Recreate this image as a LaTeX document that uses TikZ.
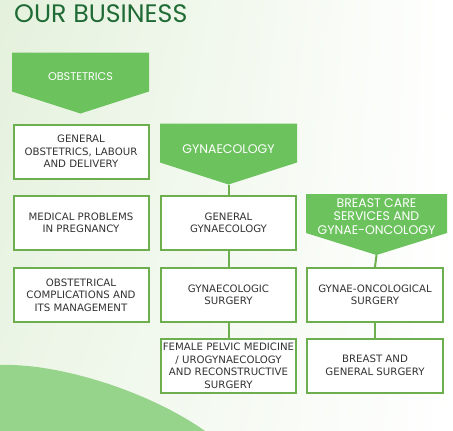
\documentclass[tikz,border=0pt]{standalone}
\usepackage{fontspec}
\setmainfont{DejaVu Sans}
\newfontfamily\headfont{Poppins}
\usetikzlibrary{calc,shadings}
\definecolor{bizdark}{HTML}{1F6B35}
\definecolor{bizhead}{HTML}{6CC35E}
\definecolor{bizline}{HTML}{6DAE4F}
\definecolor{bizwave}{HTML}{96D48B}
\definecolor{bizfade}{HTML}{E4F1DC}
\definecolor{biztext}{HTML}{333333}
\tikzset{
  headbox/.style={minimum width=137pt, minimum height=61pt, inner sep=0pt, align=center, text=white, font=\headfont\fontsize{12.5}{13.5}\selectfont,
    path picture={\fill[bizhead] (path picture bounding box.north west) -- (path picture bounding box.north east) -- ([yshift=22pt]path picture bounding box.south east) -- (path picture bounding box.south) -- ([yshift=22pt]path picture bounding box.south west) -- cycle;}},
  itembox/.style={draw=bizline, line width=2pt, fill=white, minimum width=135pt, minimum height=54pt, inner xsep=0.5pt, inner ysep=2pt, align=center, text=biztext, font=\fontsize{10.2}{12.5}\selectfont},
  itemlink/.style={draw=bizline, line width=2pt}
}

\begin{document}
\begin{tikzpicture}[x=1pt, y=-1pt]
\useasboundingbox (0,0) rectangle (453,431);
\shade[upper left=bizfade, upper right=white, lower left=bizfade!70!white, lower right=white] (0,0) rectangle (453,431);
\fill[bizwave] (0,365) .. controls (60,363) and (150,392) .. (205,431) -- (0,431) -- cycle;
\node[anchor=base west, inner sep=0pt, text=bizdark, font=\headfont\fontsize{25.3}{25}\selectfont] (title) at (14,22) {OUR BUSINESS};

\node[headbox, font=\headfont\fontsize{11.2}{13.5}\selectfont] (obs) at (80.5,83) {OBSTETRICS\rule[-12pt]{0pt}{0pt}};
\node[itembox] (ogl) at (81,151.5) {GENERAL\\OBSTETRICS, LABOUR\\AND DELIVERY};
\node[itembox] (omp) at (81,223) {MEDICAL PROBLEMS\\IN PREGNANCY};
\node[itembox] (ocm) at (81,295) {OBSTETRICAL\\COMPLICATIONS AND\\ITS MANAGEMENT};

\node[headbox] (gyn) at (228.5,154) {GYNAECOLOGY\rule[-10pt]{0pt}{0pt}};
\node[itembox] (ggn) at (228.5,223) {GENERAL\\GYNAECOLOGY};
\node[itembox] (gsu) at (228.5,295) {GYNAECOLOGIC\\SURGERY};
\node[itembox] (gpm) at (228.5,366) {FEMALE PELVIC MEDICINE\\/ UROGYNAECOLOGY\\AND RECONSTRUCTIVE\\SURGERY};

\node[headbox, minimum width=141pt] (brc) at (376.5,224.5) {BREAST CARE\\SERVICES AND\\GYNAE-ONCOLOGY\rule[-16pt]{0pt}{0pt}};
\node[itembox, minimum width=136pt] (bos) at (375,295) {GYNAE-ONCOLOGICAL\\SURGERY};
\node[itembox, minimum width=136pt] (bgs) at (375,365.5) {BREAST AND\\GENERAL SURGERY};

\draw[itemlink] (gyn.south) -- (ggn.north);
\draw[itemlink] (ggn) -- (gsu);
\draw[itemlink] (gsu) -- (gpm);
\draw[itemlink] (brc.south) -- (bos.north);
\draw[itemlink] (bos) -- (bgs);
\end{tikzpicture}
\end{document}
